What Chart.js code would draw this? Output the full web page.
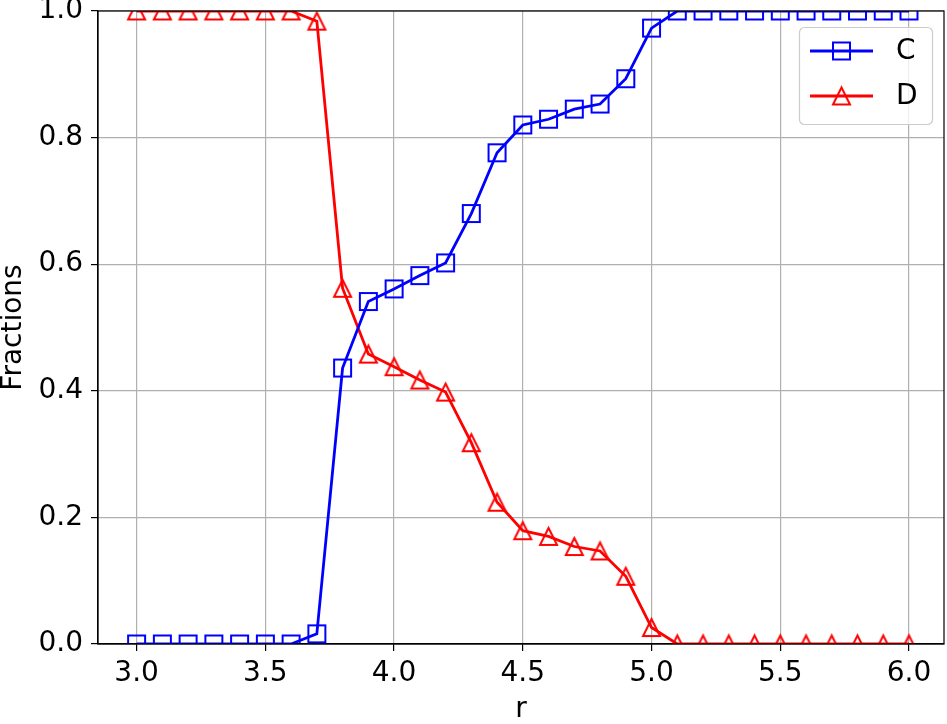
<!DOCTYPE html>
<html>
<head>
<meta charset="utf-8">
<script src="https://cdn.jsdelivr.net/npm/chart.js@4"></script>
<style>
  html, body { margin: 0; padding: 0; background: #fff; }
  canvas { display: block; }
</style>
</head>
<body>
<canvas id="chart" width="947" height="724"></canvas>
<script>
// r values and fractions of C / D
const rValues = [3.0, 3.1, 3.2, 3.3, 3.4, 3.5, 3.6, 3.7, 3.8, 3.9, 4.0,
  4.1, 4.2, 4.3, 4.4, 4.5, 4.6, 4.7, 4.8, 4.9, 5.0,
  5.1, 5.2, 5.3, 5.4, 5.5, 5.6, 5.7, 5.8, 5.9, 6.0];

const fractionC = [0, 0, 0, 0, 0, 0, 0, 0.016, 0.436, 0.541, 0.561,
  0.582, 0.602, 0.680, 0.776, 0.820, 0.829, 0.845, 0.853, 0.893, 0.973,
  1, 1, 1, 1, 1, 1, 1, 1, 1, 1];

const fractionD = [1, 1, 1, 1, 1, 1, 1, 0.984, 0.562, 0.458, 0.438,
  0.417, 0.398, 0.318, 0.224, 0.179, 0.170, 0.154, 0.147, 0.107, 0.026,
  0, 0, 0, 0, 0, 0, 0, 0, 0, 0];

const xTicks = [3.0, 3.5, 4.0, 4.5, 5.0, 5.5, 6.0];
const yTicks = [0.0, 0.2, 0.4, 0.6, 0.8, 1.0];

const FONT = "'DejaVu Sans', sans-serif";
const BLUE = '#0000ff';
const RED = '#ff0000';

// matplotlib-like hollow markers as little canvases
function makeMarker(kind, color) {
  const s = 17, size = 23;
  const c = document.createElement('canvas');
  c.width = size; c.height = size;
  const g = c.getContext('2d');
  const m = size / 2;
  g.strokeStyle = color;
  g.lineWidth = 2;
  g.beginPath();
  if (kind === 'square') {
    g.rect(m - s / 2, m - s / 2, s, s);
  } else {
    g.moveTo(m, m - s / 2);
    g.lineTo(m + s / 2, m + s / 2);
    g.lineTo(m - s / 2, m + s / 2);
    g.closePath();
  }
  g.stroke();
  return c;
}
const squareMarker = makeMarker('square', BLUE);
const triangleMarker = makeMarker('triangle', RED);

const toPoints = ys => rValues.map((x, i) => ({ x, y: ys[i] }));

// top/right spines drawn over the data, like matplotlib
const framePlugin = {
  id: 'frame',
  afterDatasetsDraw(chart) {
    const { ctx, chartArea: a } = chart;
    ctx.save();
    ctx.strokeStyle = '#000';
    ctx.lineWidth = 1.2;
    ctx.strokeRect(a.left, a.top, a.right - a.left, a.bottom - a.top);
    ctx.restore();
  }
};

// legend box in the upper right
const legendPlugin = {
  id: 'mplLegend',
  afterDraw(chart) {
    const ctx = chart.ctx;
    const items = [
      { label: 'C', color: BLUE, marker: squareMarker, y: 51 },
      { label: 'D', color: RED, marker: triangleMarker, y: 96 }
    ];
    ctx.save();
    ctx.fillStyle = 'rgba(255,255,255,0.8)';
    ctx.strokeStyle = '#cccccc';
    ctx.lineWidth = 1.2;
    ctx.beginPath();
    ctx.roundRect(799.5, 27.5, 133, 97, 5);
    ctx.fill();
    ctx.stroke();
    items.forEach(it => {
      ctx.strokeStyle = it.color;
      ctx.lineWidth = 2.8;
      ctx.beginPath();
      ctx.moveTo(810, it.y);
      ctx.lineTo(873, it.y);
      ctx.stroke();
      ctx.drawImage(it.marker, 841.5 - it.marker.width / 2, it.y - it.marker.height / 2);
      ctx.fillStyle = '#000';
      ctx.font = '28px ' + FONT;
      ctx.textBaseline = 'middle';
      ctx.textAlign = 'left';
      ctx.fillText(it.label, 896, it.y + 1);
    });
    ctx.restore();
  }
};

new Chart(document.getElementById('chart'), {
  type: 'line',
  data: {
    datasets: [
      {
        label: 'C',
        data: toPoints(fractionC),
        borderColor: BLUE,
        borderWidth: 2.8,
        pointStyle: squareMarker,
        pointRadius: 10,
        tension: 0,
        fill: false,
        clip: 0
      },
      {
        label: 'D',
        data: toPoints(fractionD),
        borderColor: RED,
        borderWidth: 2.8,
        pointStyle: triangleMarker,
        pointRadius: 10,
        tension: 0,
        fill: false,
        clip: 0
      }
    ]
  },
  options: {
    responsive: false,
    animation: false,
    events: [],
    layout: { autoPadding: false, padding: { top: 11, right: 3, left: 0, bottom: 0 } },
    plugins: { legend: { display: false }, tooltip: { enabled: false } },
    scales: {
      x: {
        type: 'linear',
        min: 2.85,
        max: 6.136,
        afterBuildTicks: s => { s.ticks = xTicks.map(v => ({ value: v })); },
        afterFit: s => { s.height = 80; s.paddingLeft = 0; s.paddingRight = 0; },
        grid: { color: '#b0b0b0', lineWidth: 1.2, tickColor: '#000', tickLength: 7, tickWidth: 1.2 },
        border: { color: '#000', width: 1.2 },
        ticks: {
          color: '#000',
          padding: 6,
          maxRotation: 0,
          font: { family: FONT, size: 28 },
          callback: v => v.toFixed(1)
        },
        title: {
          display: true,
          text: 'r',
          color: '#000',
          font: { family: FONT, size: 28, lineHeight: 1 },
          padding: { top: 0, bottom: 0 }
        }
      },
      y: {
        min: 0,
        max: 1,
        afterBuildTicks: s => { s.ticks = yTicks.map(v => ({ value: v })); },
        afterFit: s => { s.width = 98; s.paddingTop = 0; s.paddingBottom = 0; },
        grid: { color: '#b0b0b0', lineWidth: 1.2, tickColor: '#000', tickLength: 7, tickWidth: 1.2 },
        border: { color: '#000', width: 1.2 },
        ticks: {
          color: '#000',
          padding: 8,
          font: { family: FONT, size: 28 },
          callback: v => v.toFixed(1)
        },
        title: {
          display: true,
          text: 'Fractions',
          color: '#000',
          font: { family: FONT, size: 28, lineHeight: 1 },
          padding: { top: 0, bottom: 0 }
        }
      }
    }
  },
  plugins: [framePlugin, legendPlugin]
});
</script>
</body>
</html>
